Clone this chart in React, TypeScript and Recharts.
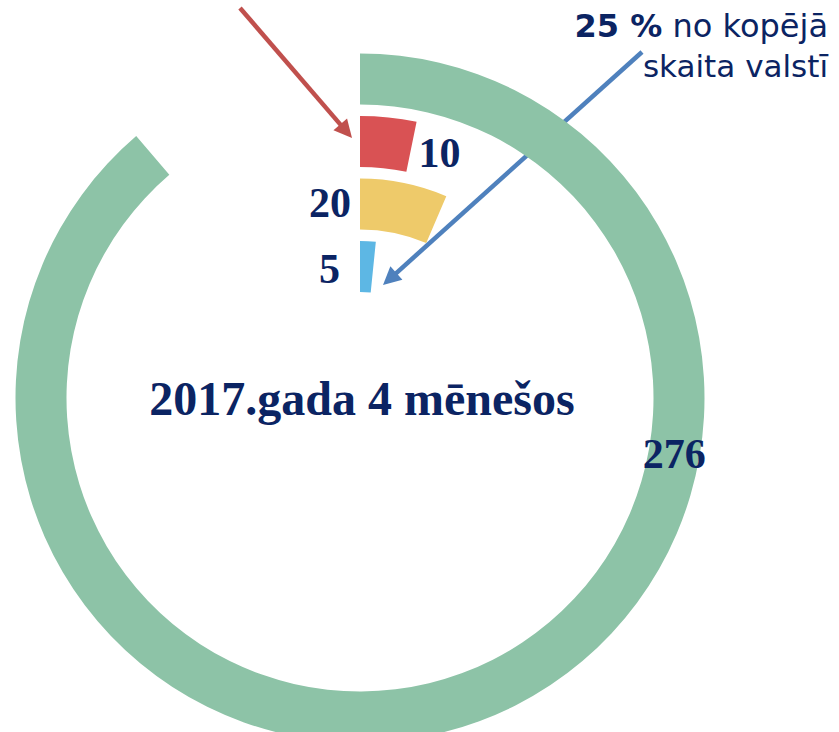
import React from "react";
import { RadialBarChart, RadialBar, PolarAngleAxis, Cell, LabelList, Customized } from "recharts";

// Data (innermost ring first)
const categories = ["blue", "yellow", "red", "green"];
const values = [5, 20, 10, 276];
const colors = ["#5DB7E4", "#EECA6A", "#D95254", "#8DC3A7"];
const total = values.reduce((a, b) => a + b, 0); // 311
const centerTitle = "2017.gada 4 mēnešos";
const noteBold = "25 %";
const noteLine1 = " no kopējā";
const noteLine2 = "skaita valstī";

const data = categories.map((c, i) => ({ name: c, value: values[i] }));

const NAVY = "#0B2463";
const SERIF = "'Liberation Serif', 'Times New Roman', serif";
const SANS = "'DejaVu Sans', Verdana, sans-serif";
const RAD = Math.PI / 180;

const polar = (cx: number, cy: number, r: number, angle: number) => ({
  x: cx + r * Math.cos(-angle * RAD),
  y: cy + r * Math.sin(-angle * RAD),
});

const renderValueLabel = (props: any) => {
  const { viewBox, value, index } = props;
  if (!viewBox) return null;
  const { cx, cy, innerRadius, outerRadius, startAngle, endAngle } = viewBox;
  const mid = (innerRadius + outerRadius) / 2;
  const name = categories[index];
  const fs = 42;
  let x = 0;
  let y = 0;
  let anchor: "start" | "end" | "middle" = "middle";
  if (name === "red") {
    const p = polar(cx, cy, mid, endAngle);
    x = p.x + 7;
    y = p.y + 6;
    anchor = "start";
  } else if (name === "yellow") {
    const p = polar(cx, cy, mid, startAngle);
    x = p.x - 9;
    y = p.y - 2;
    anchor = "end";
  } else if (name === "blue") {
    const p = polar(cx, cy, mid, startAngle);
    x = p.x - 20;
    y = p.y + 2;
    anchor = "end";
  } else {
    const p = polar(cx, cy, mid, -10);
    x = p.x;
    y = p.y;
    anchor = "middle";
  }
  return (
    <text
      key={`lbl-${index}`}
      x={x}
      y={y + fs * 0.35}
      textAnchor={anchor}
      fontFamily={SERIF}
      fontWeight="bold"
      fontSize={fs}
      fill={NAVY}
    >
      {value}
    </text>
  );
};

const Arrow = ({ x1, y1, x2, y2, color }: { x1: number; y1: number; x2: number; y2: number; color: string }) => {
  const len = Math.hypot(x2 - x1, y2 - y1);
  const ux = (x2 - x1) / len;
  const uy = (y2 - y1) / len;
  const headL = 18;
  const headW = 9;
  const bx = x2 - ux * headL;
  const by = y2 - uy * headL;
  const px = -uy;
  const py = ux;
  return (
    <g>
      <line x1={x1} y1={y1} x2={bx + ux * 2} y2={by + uy * 2} stroke={color} strokeWidth={4.5} />
      <polygon
        points={`${x2},${y2} ${bx + px * headW},${by + py * headW} ${bx - px * headW},${by - py * headW}`}
        fill={color}
      />
    </g>
  );
};

const Overlay = () => (
  <g>
    <text x={362} y={415} textAnchor="middle" fontFamily={SERIF} fontWeight="bold" fontSize={48} fill={NAVY}>
      {centerTitle}
    </text>
    <Arrow x1={240} y1={8} x2={352} y2={138} color="#C0504D" />
    <Arrow x1={642} y1={52} x2={383} y2={285} color="#4F81BD" />
    <text x={828} y={37} textAnchor="end" fontFamily={SANS} fontSize={32} fill={NAVY}>
      <tspan fontWeight="bold">{noteBold}</tspan>
      <tspan>{noteLine1}</tspan>
    </text>
    <text x={828} y={77} textAnchor="end" fontFamily={SANS} fontSize={31} fill={NAVY}>
      {noteLine2}
    </text>
  </g>
);

export default function App() {
  return (
    <div style={{ position: "absolute", left: 0, top: 0, width: 839, height: 732, background: "#fff" }}>
      <RadialBarChart
        width={839}
        height={732}
        cx={360}
        cy={398}
        innerRadius={100}
        outerRadius={350}
        startAngle={90}
        endAngle={-270}
        data={data}
        barCategoryGap={6}
        margin={{ top: 0, right: 0, bottom: 0, left: 0 }}
      >
        <PolarAngleAxis type="number" domain={[0, total]} tick={false} axisLine={false} />
        <RadialBar dataKey="value" isAnimationActive={false}>
          {data.map((d, i) => (
            <Cell key={d.name} fill={colors[i]} />
          ))}
          <LabelList dataKey="value" content={renderValueLabel} />
        </RadialBar>
        <Customized component={<Overlay />} />
      </RadialBarChart>
    </div>
  );
}
